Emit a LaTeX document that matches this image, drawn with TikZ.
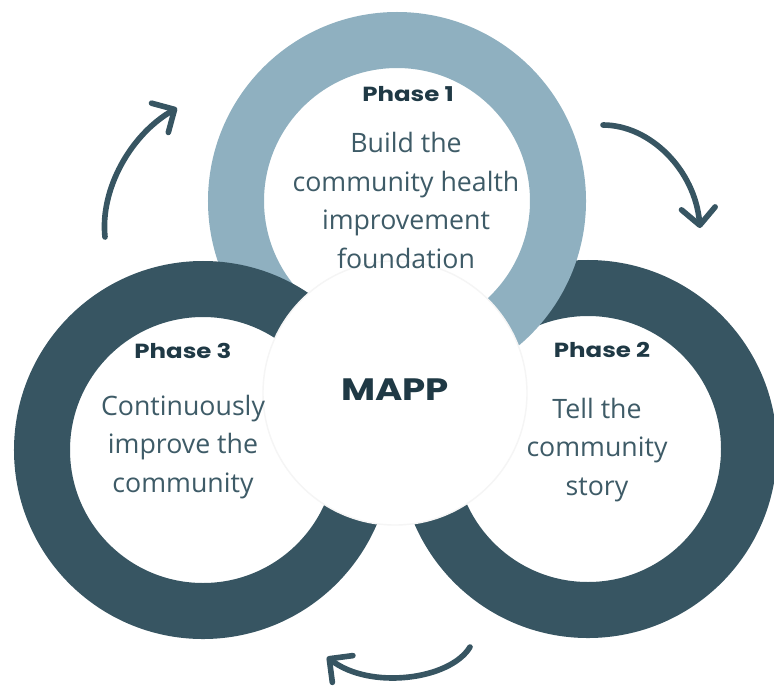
\documentclass[tikz,border=0pt]{standalone}
\usepackage{fontspec}
\setmainfont{Open Sans}
\newfontfamily\headfont{Poppins}[FakeStretch=1.2]
\usepackage{tikz}
\usetikzlibrary{arrows.meta}
\definecolor{lightring}{HTML}{8FB0C0}
\definecolor{darkring}{HTML}{375562}
\definecolor{labeltext}{HTML}{1F3945}
\definecolor{bodytext}{HTML}{3E5B67}
\def\phasefont{\headfont\bfseries\fontsize{14.5}{16}\selectfont}
\def\descfont{\fontsize{19}{27.3}\selectfont}

\begin{document}
\begin{tikzpicture}[x=0.025cm, y=-0.025cm,
	ring/.style={line width=1.4cm, fill=white},
	phase/.style={anchor=base, font=\phasefont, text=labeltext},
	desc/.style={anchor=base, font=\descfont, text=bodytext, align=center, inner sep=0pt},
	cycle/.style={darkring, line width=4pt, line cap=round,
		-{Straight Barb[length=12pt, width=24pt, line cap=round, line join=round]}}]
	\useasboundingbox (0,0) rectangle (774,686);
	\clip (0,0) rectangle (774,686);
	% the three phase rings, phase 2 at the back
	\draw[ring, draw=darkring] (588,449) circle[radius=161];
	\draw[ring, draw=lightring] (397,201) circle[radius=161];
	\draw[ring, draw=darkring] (203,450) circle[radius=161];
	\draw[fill=white, draw=black!4, line width=1pt] (395,393) circle[radius=132];
	\node[phase] (p1) at (408,101) {Phase 1};
	\node[desc] (d1) at (406,268) {Build the\\community health\\improvement\\foundation};
	\node[phase] (p2) at (602,357) {Phase 2};
	\node[desc] (d2) at (597,495) {Tell the\\community\\story};
	\node[phase] (p3) at (183,358) {Phase 3};
	\node[desc] (d3) at (183,492) {Continuously\\improve the\\community};
	\node[anchor=base, font=\headfont\bfseries\fontsize{22}{24}\selectfont, text=labeltext] (mapp) at (395,400) {MAPP};
	% arrows between the phases
	\coordinate (a1s) at (105,237);
	\coordinate (a1e) at (177,108);
	\coordinate (a2s) at (603,125);
	\coordinate (a2e) at (700,228);
	\coordinate (a3s) at (470,647);
	\coordinate (a3e) at (327,657);
	\draw[cycle] (a1s) .. controls (100,190) and (130,135) .. (a1e);
	\draw[cycle] (a2s) .. controls (650,125) and (695,170) .. (a2e);
	\draw[cycle] (a3s) .. controls (450,680) and (370,690) .. (a3e);
\end{tikzpicture}
\end{document}
